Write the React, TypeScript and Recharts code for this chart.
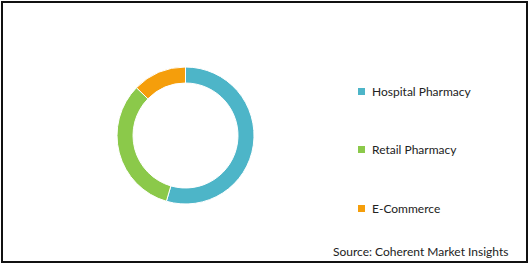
import React from 'react';
import { PieChart, Pie, Cell } from 'recharts';

const channels = ['Hospital Pharmacy', 'Retail Pharmacy', 'E-Commerce'];
const shares = [54.5, 32.8, 12.7];
const colors = ['#4DB5C8', '#8BC94A', '#F59E0B'];

const data = channels.map((name, i) => ({ name, value: shares[i] }));

const FONT = 'Lato, "Open Sans", sans-serif';

const LegendList = () => (
  <div style={{ position: 'absolute', left: 358, top: 81, fontFamily: FONT }}>
    {data.map((d, index) => (
      <div
        key={`leg-${index}`}
        style={{ display: 'flex', alignItems: 'center', height: 20, marginBottom: index < 2 ? 38.5 : 0 }}
      >
        <span style={{ width: 7, height: 7, background: colors[index], display: 'inline-block', marginRight: 7 }} />
        <span style={{ fontSize: 12, color: '#222', whiteSpace: 'nowrap' }}>{d.name}</span>
      </div>
    ))}
  </div>
);

export default function App() {
  return (
    <div style={{ position: 'absolute', left: 0, top: 0, width: 530, height: 266, background: '#fff' }}>
      <div
        style={{
          position: 'absolute',
          left: 1,
          top: 1,
          width: 527,
          height: 262,
          border: '2px solid #111',
          boxSizing: 'border-box',
        }}
      />
      <PieChart
        width={530}
        height={266}
        margin={{ top: 0, right: 0, bottom: 0, left: 0 }}
        style={{ position: 'absolute', left: 0, top: 0 }}
      >
        <Pie
          data={data}
          dataKey="value"
          nameKey="name"
          cx={185.5}
          cy={135.5}
          innerRadius={52.5}
          outerRadius={68.5}
          startAngle={90}
          endAngle={-270}
          stroke="#fff"
          strokeWidth={1}
          isAnimationActive={false}
        >
          {data.map((d, i) => (
            <Cell key={d.name} fill={colors[i]} />
          ))}
        </Pie>
      </PieChart>
      <LegendList />
      <div
        style={{
          position: 'absolute',
          left: 333,
          top: 244,
          fontFamily: FONT,
          fontSize: 12,
          color: '#222',
          whiteSpace: 'nowrap',
        }}
      >
        Source: Coherent Market Insights
      </div>
    </div>
  );
}
